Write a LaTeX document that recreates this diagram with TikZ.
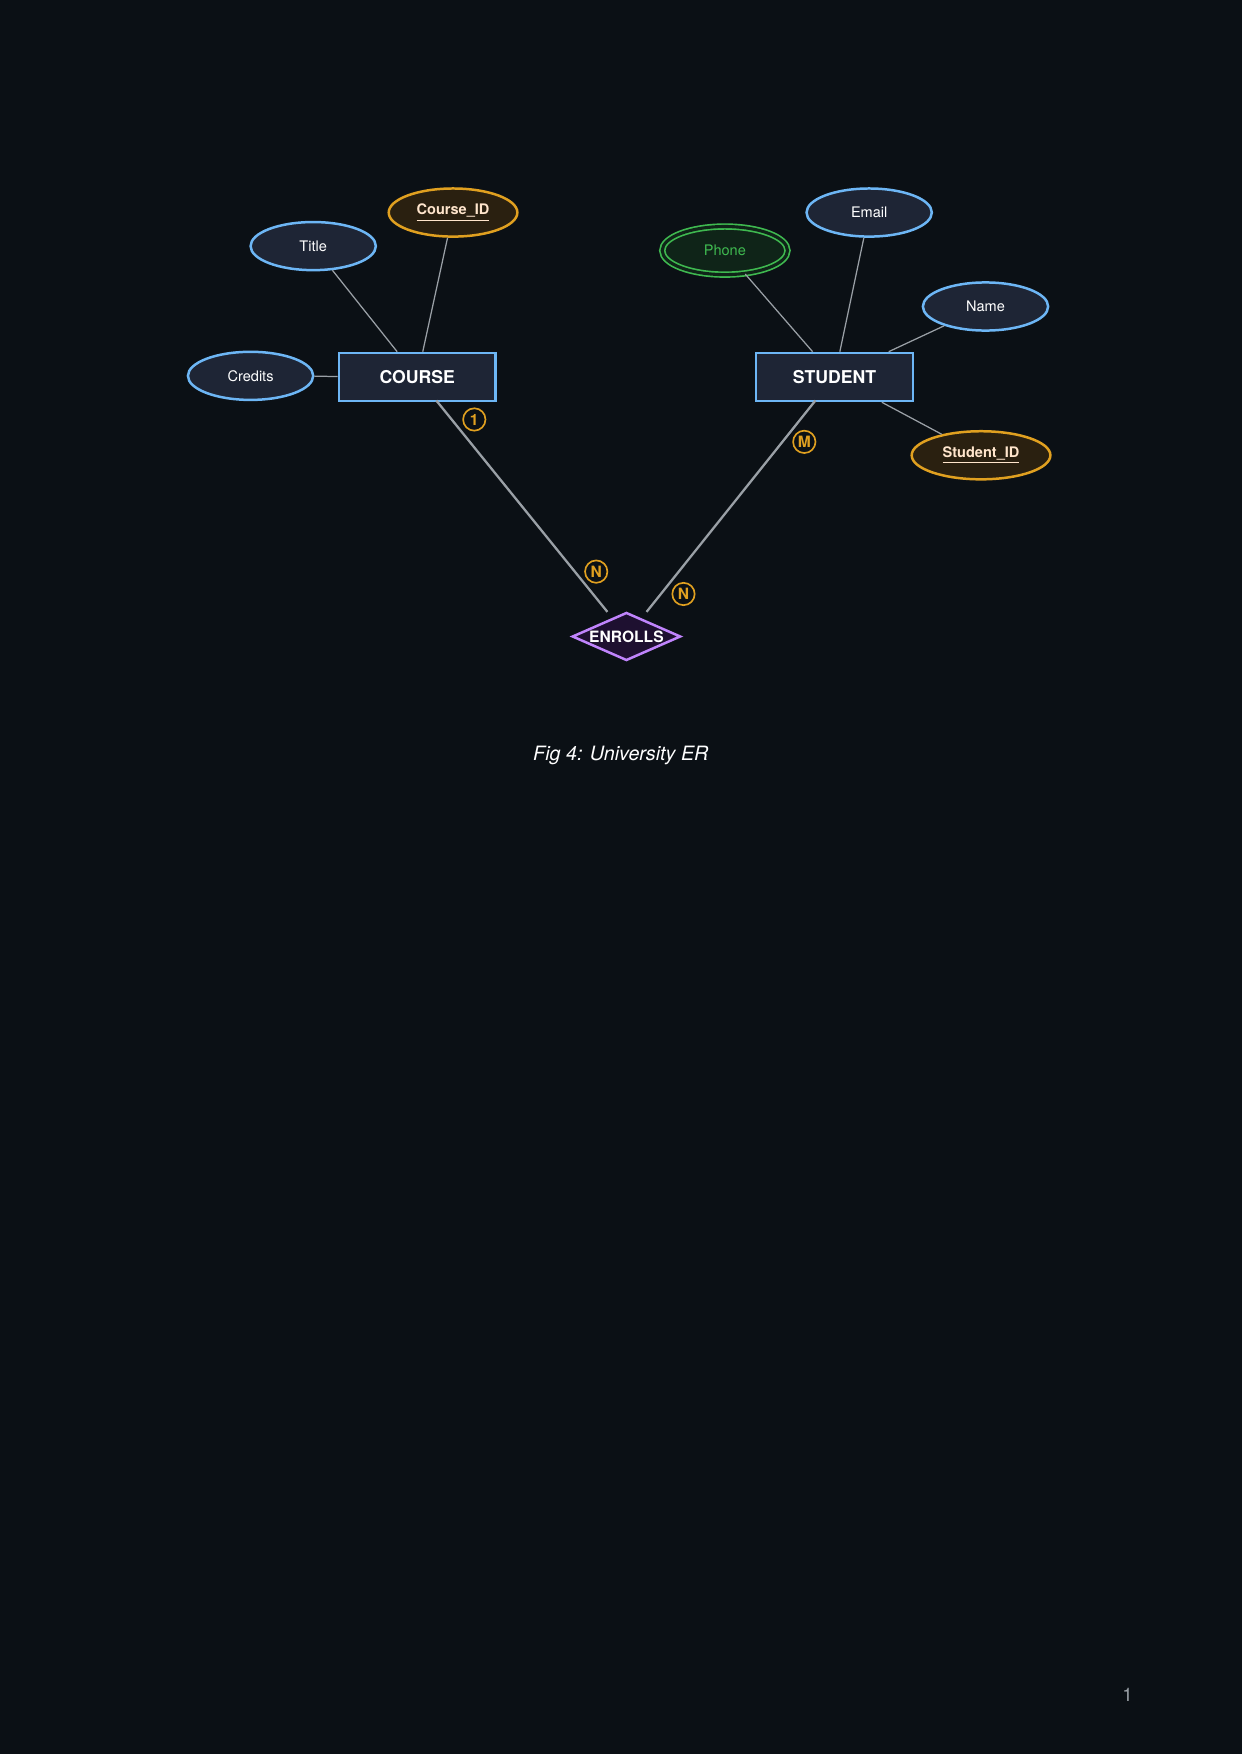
\documentclass[tikz,border=0pt]{standalone}
\usepackage{fontspec}
\setmainfont{TeX Gyre Heros}
\usetikzlibrary{shapes.geometric}
\definecolor{bg}{HTML}{0B1015}
\definecolor{ent}{HTML}{1E2535}
\definecolor{blu}{HTML}{6DB6F5}
\definecolor{org}{HTML}{E0A020}
\definecolor{orgf}{HTML}{2A2010}
\definecolor{grn}{HTML}{3FB950}
\definecolor{grnf}{HTML}{0F2418}
\definecolor{pur}{HTML}{C084FC}
\definecolor{purf}{HTML}{1E1030}
\definecolor{ln}{HTML}{9AA0A6}
\begin{document}
\begin{tikzpicture}[x=0.01892cm,y=-0.01892cm,
 entity/.style={draw=blu,line width=1.2pt,fill=ent,minimum width=140*0.01892cm,minimum height=43*0.01892cm,text=white,font=\fontsize{8.5}{10}\selectfont\bfseries},
 attr/.style={ellipse,draw=blu,line width=1.2pt,fill=ent,minimum width=112*0.01892cm,minimum height=43*0.01892cm,inner sep=0pt,text=white,font=\fontsize{7}{8}\selectfont},
 keyattr/.style={attr,draw=org,fill=orgf,text={orange!20!white},font=\fontsize{7}{8}\selectfont\bfseries},
 multi/.style={attr,draw=grn,fill=grnf,text=grn,double=grnf,double distance=1.5pt,line width=0.8pt},
 rel/.style={diamond,draw=pur,line width=1.2pt,fill=purf,minimum width=97*0.01892cm,minimum height=43*0.01892cm,inner sep=0pt,aspect=2.25,text=white,font=\fontsize{7.5}{9}\selectfont\bfseries},
 card/.style={circle,draw=org,line width=0.8pt,minimum size=20*0.01892cm,inner sep=0pt,text=org,font=\fontsize{7.5}{9}\selectfont\bfseries},
 aline/.style={draw=ln,line width=0.6pt},
 rline/.style={draw=ln,line width=1.1pt}]
\fill[bg] (0,0) rectangle (1110,1568);
\useasboundingbox (0,0) rectangle (1110,1568);
\node[entity] (course) at (373,337) {COURSE};
\node[entity] (student) at (746,337) {STUDENT};
\node[attr] (title) at (280,220) {Title};
\node[keyattr,minimum width=115*0.01892cm] (cid) at (405,190) {\underline{Course\_ID}};
\node[attr] (credits) at (224,336) {Credits};
\node[multi] (phone) at (648,224) {Phone};
\node[attr] (email) at (777,190) {Email};
\node[attr] (name) at (881,274) {Name};
\node[keyattr,minimum width=124*0.01892cm] (sid) at (877,407) {\underline{Student\_ID}};
\node[rel] (enr) at (560,569) {ENROLLS};
\coordinate (cs) at (390,358);
\coordinate (ss) at (729,358);
\coordinate (e1) at (543,547);
\coordinate (e2) at (578,547);
\draw[aline] (title) -- (course);
\draw[aline] (cid) -- (course);
\draw[aline] (credits) -- (course);
\draw[aline] (phone) -- (student);
\draw[aline] (email) -- (student);
\draw[aline] (name) -- (student);
\draw[aline] (sid) -- (student);
\draw[rline] (cs) -- (e1);
\draw[rline] (ss) -- (e2);
\node[card] (c1) at (424,375) {1};
\node[card] (c2) at (533,511) {N};
\node[card] (c3) at (719,395) {M};
\node[card] (c4) at (611,531) {N};
\node[text=white,font=\fontsize{9.5}{11}\selectfont\itshape] (cap) at (555,675) {Fig 4: University ER};
\node[text=ln,font=\fontsize{9}{11}\selectfont] (pg) at (1008,1515) {1};
\end{tikzpicture}
\end{document}
